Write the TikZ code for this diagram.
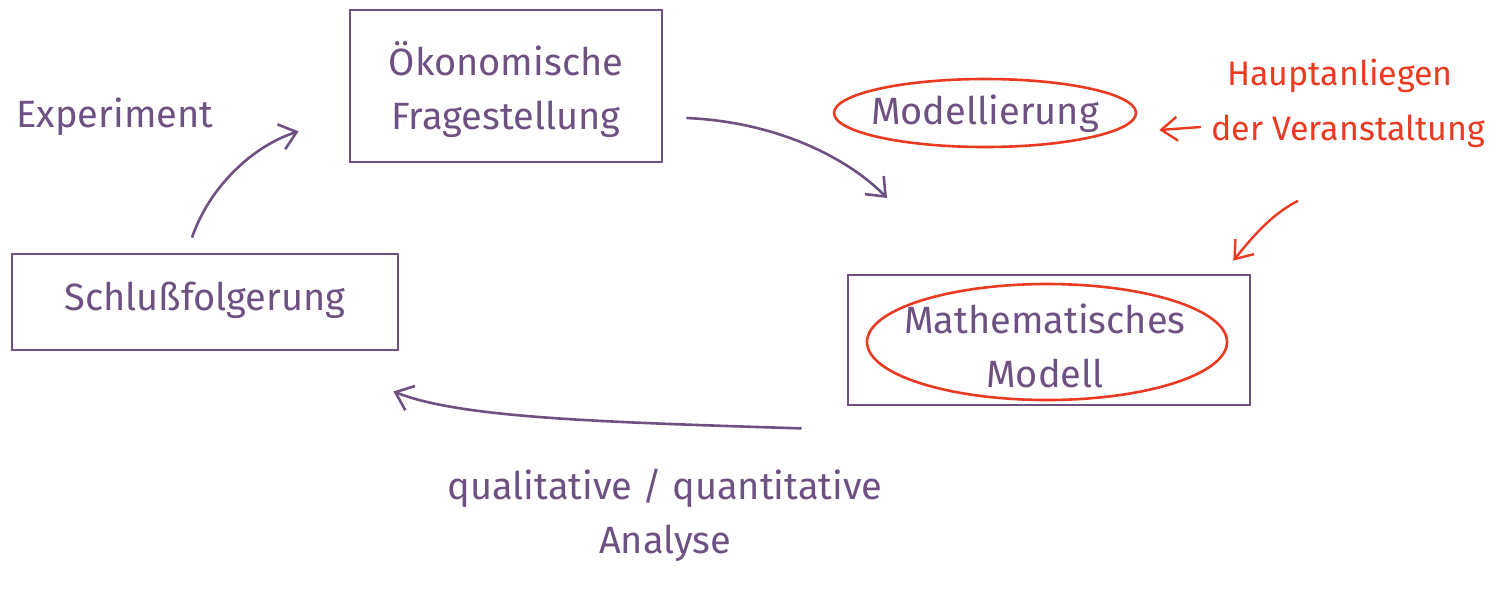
\documentclass[tikz,border=0pt]{standalone}
\usepackage{fontspec}
\setmainfont{Fira Sans}
\usetikzlibrary{arrows.meta,shapes.geometric,calc}
\definecolor{ink}{HTML}{6E5082}
\definecolor{redink}{HTML}{EA3A22}
\tikzset{
  hand/.style={font=\fontsize{19}{27}\selectfont, text=ink, align=center, inner sep=0pt},
  redhand/.style={font=\fontsize{17}{24}\selectfont, text=redink, align=center, inner sep=0pt},
  box/.style={draw=ink, line width=1.4pt, rectangle, inner sep=0pt},
  ring/.style={draw=redink, line width=1.3pt, ellipse, inner sep=0pt},
  flow/.style={draw=ink, line width=1.3pt, -{Straight Barb[length=8pt,width=13pt]}},
  redflow/.style={draw=redink, line width=1.2pt, -{Straight Barb[length=8pt,width=12pt]}}
}
\begin{document}
\begin{tikzpicture}[x=0.5pt,y=-0.5pt]
  \useasboundingbox (0,0) rectangle (1511,596);

  % boxes
  \node[box, minimum width=156pt, minimum height=76pt] (oek) at (506,86) {};
  \node[hand] (oektext) at (506,90) {Ökonomische\\Fragestellung};

  \node[box, minimum width=193pt, minimum height=48pt] (schl) at (205,302) {};
  \node[hand] (schltext) at (205,300) {Schlußfolgerung};

  \node[box, minimum width=201pt, minimum height=65pt] (math) at (1049,340) {};
  \node[ring, minimum width=180pt, minimum height=58pt] (mathring) at (1047,342) {};
  \node[hand] (mathtext) at (1045,346) {Mathematisches\\Modell};

  % modelling step
  \node[ring, minimum width=151pt, minimum height=34pt] (modring) at (985,113) {};
  \node[hand] (mod) at (985,114) {Modellierung};

  % side labels
  \node[hand] (exp) at (115,117) {Experiment};
  \node[hand] (ana) at (665,515) {qualitative / quantitative\\Analyse};

  % red remark
  \node[redhand] (haupt) at (1340,76) {Hauptanliegen};
  \node[redhand] (ver) at (1348,131) {der Veranstaltung};

  % cycle arrows
  \coordinate (modin) at (887,198);
  \draw[flow] ($(oek.east)+(23,32)$) .. controls (780,122) and (850,160) .. (modin);
  \draw[flow] ($(math.south west)+(-45,22)$) .. controls (600,422) and (460,418) .. ($(schl.south east)+(-6,40)$);
  \draw[flow] ($(schl.north)+(-13,-15)$) .. controls (210,185) and (255,145) .. ($(oek.south west)+(-50,-32)$);

  % red pointers
  \draw[redflow] ($(ver.west)+(-10,-4)$) -- ($(modring.east)+(22,17)$);
  \draw[redflow] ($(ver.south)+(-50,53)$) .. controls (1270,215) and (1250,240) .. ($(math.north east)+(-18,-13)$);
\end{tikzpicture}
\end{document}
